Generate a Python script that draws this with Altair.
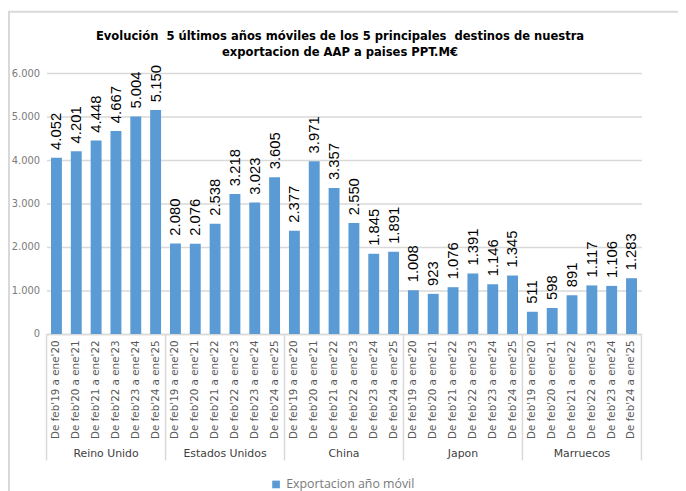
import altair as alt
import pandas as pd

countries = ["Reino Unido", "Estados Unidos", "China", "Japon", "Marruecos"]
periods = ["De feb'19 a ene'20", "De feb'20 a ene'21", "De feb'21 a ene'22",
           "De feb'22 a ene'23", "De feb'23 a ene'24", "De feb'24 a ene'25"]
values = {
    "Reino Unido":    [4052, 4201, 4448, 4667, 5004, 5150],
    "Estados Unidos": [2080, 2076, 2538, 3218, 3023, 3605],
    "China":          [2377, 3971, 3357, 2550, 1845, 1891],
    "Japon":          [1008, 923, 1076, 1391, 1146, 1345],
    "Marruecos":      [511, 598, 891, 1117, 1106, 1283],
}
series_name = "Exportacion año móvil"
y_ticks = [0, 1000, 2000, 3000, 4000, 5000, 6000]
title_lines = ["Evolución\u00a0 5 últimos años móviles de los 5 principales\u00a0 destinos de nuestra",
               "exportacion de AAP a paises PPT.M€"]

rows = []
for c in countries:
    for i, p in enumerate(periods):
        rows.append({"key": c + "|" + p, "pais": c, "periodo": p, "idx": i,
                     "valor": values[c][i], "serie": series_name})
df = pd.DataFrame(rows)
keys = list(df["key"])

W, H = 602, 264
BLUE = "#5b9bd5"
GRID = "#d9d9d9"
GRAY = "#595959"
LIGHT = "#7a7a7a"
PI = 0.45
PO = PI / 2
STEP = W / (len(keys) - PI + 2 * PO)
HALF_GAP = PI * STEP / 2

xenc = alt.X("key:N", sort=keys, scale=alt.Scale(paddingInner=PI, paddingOuter=PO),
             axis=alt.Axis(title=None, labelExpr="split(datum.value, '|')[1]",
                           labelAngle=270, labelFont="DejaVu Sans", labelFontSize=10.5,
                           labelColor=GRAY, labelPadding=6, ticks=False,
                           domainColor=GRID, domainWidth=1.5, labelLimit=200))

base = alt.Chart(df)

bars = base.mark_bar(color=BLUE).encode(
    x=xenc,
    y=alt.Y("valor:Q", scale=alt.Scale(domain=[0, 6000], nice=False),
            axis=alt.Axis(title=None, values=y_ticks, domain=False, ticks=False,
                          labelExpr="replace(format(datum.value, ','), ',', '.')",
                          labelFont="DejaVu Sans", labelFontSize=10, labelColor=LIGHT,
                          labelPadding=7, gridColor=GRID, gridWidth=1.5)),
    color=alt.Color("serie:N", scale=alt.Scale(range=[BLUE]),
                    legend=alt.Legend(title=None, orient="none", legendX=226, legendY=410,
                                      symbolType="square", symbolSize=60,
                                      labelFont="Open Sans", labelFontSize=12.5,
                                      labelColor=LIGHT, symbolStrokeWidth=0)),
)

labels = base.transform_calculate(
    lab="replace(format(datum.valor, ','), ',', '.')"
).mark_text(angle=270, align="left", baseline="middle", dx=8,
            font="Liberation Sans", fontSize=15, color="black").encode(
    x=alt.X("key:N", sort=keys),
    y=alt.Y("valor:Q"),
    text="lab:N",
)

seps_left = base.transform_filter("datum.idx == 0").mark_rule(
    color=GRID, strokeWidth=1.5, xOffset=-HALF_GAP).encode(
    x=alt.X("key:N", sort=keys, bandPosition=0),
    y=alt.value(H), y2=alt.value(H + 128),
)
seps_right = base.transform_filter("datum.idx == 5 && datum.pais == 'Marruecos'").mark_rule(
    color=GRID, strokeWidth=1.5, xOffset=HALF_GAP).encode(
    x=alt.X("key:N", sort=keys, bandPosition=1),
    y=alt.value(H), y2=alt.value(H + 128),
)
group_labels = base.transform_filter("datum.idx == 3").mark_text(
    font="DejaVu Sans", fontSize=11, color="#404040", baseline="middle",
    xOffset=-HALF_GAP).encode(
    x=alt.X("key:N", sort=keys, bandPosition=0),
    y=alt.value(H + 121),
    text="pais:N",
)

border = alt.Chart(pd.DataFrame({"b": [1]})).mark_rect(
    fill="transparent", stroke=GRID, strokeWidth=2).encode(
    x=alt.value(-38), x2=alt.value(720), y=alt.value(-62), y2=alt.value(520))

chart = alt.layer(border, bars, labels, seps_left, seps_right, group_labels).properties(
    width=W, height=H,
    title=alt.TitleParams(
        title_lines,
        font="DejaVu Sans Condensed", fontSize=13, fontWeight="bold", color="black",
        anchor="middle", offset=0, dy=49, lineHeight=17, dx=-4),
    autosize=alt.AutoSizeParams(type="none"),
    padding={"left": 39, "top": 63, "right": 37, "bottom": 156},
).configure_view(stroke=None)

chart.save("out.html", embed_options={"renderer": "svg", "actions": False})
